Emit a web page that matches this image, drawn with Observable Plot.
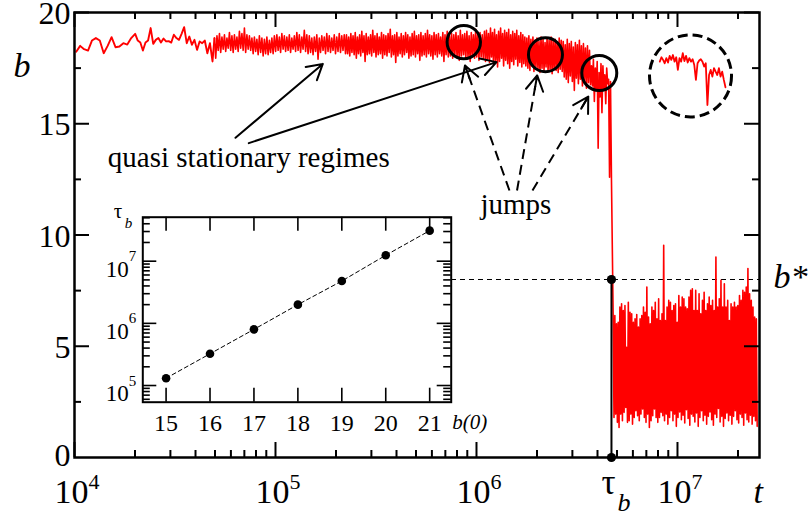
<!DOCTYPE html>
<html><head><meta charset="utf-8">
<script src="https://cdn.jsdelivr.net/npm/d3@7"></script>
<script src="https://cdn.jsdelivr.net/npm/@observablehq/plot@0.6"></script>
<style>
body{margin:0;background:#fff;}
#wrap{position:relative;width:811px;height:516px;overflow:hidden;background:#fff;font-family:"Liberation Serif";}
#wrap svg{position:absolute;font-family:"Liberation Serif";}
</style></head><body><div id="wrap"></div>
<script>
const serif = "Liberation Serif";

// ---------- main axes ----------
const xDomain = [1e4, 2.559e7];
const yDomain = [0, 20];
const xMajor = [1e4, 1e5, 1e6, 1e7];
const xExp = ["4", "5", "6", "7"];
const yMajor = [5, 10, 15, 20];
const yZero = [0];
const yMinor = [2.5, 7.5, 12.5, 17.5];
const bStar = 8;
const tauB = 4.694e6;
const bStarFrom = 7.51e5;

// ---------- main series b(t) ----------
const sparseA = [18.24,18.50,18.35,18.29,18.74,18.85,18.74,18.17,18.50,18.89,18.44,18.47,18.62,18.56,18.85];
const sparseB = [19.04,18.74,18.65,18.29,18.65,18.74,19.30,18.59,18.77,18.85,18.65,18.83,18.70,18.71,18.65,19.00,18.85,18.77,19.04,19.34,18.62,18.92,18.55,18.77,18.32,18.70,18.62,18.74,18.17,18.62,17.80];
const hi2 = [18.85,18.95,19.05,18.90,19.00,18.85,19.10,18.95,19.00,18.90,19.15,19.05,19.30,19.00,18.95,18.85,18.90,18.80,18.95,18.85,18.80,18.90,18.75,18.85,18.95,19.00,18.90,19.05,18.95,18.90,19.00,18.85,18.95,19.10,19.00,18.90,19.20,19.00,18.95,18.85,18.90,19.00,18.85,18.95,18.90,19.05,18.95,18.85,19.00,18.90,19.05,18.95,19.00];
const lo2 = [17.95,18.30,18.20,18.35,18.25,18.40,18.30,18.20,18.35,18.25,18.40,18.30,18.20,18.35,18.30,18.15,18.25,18.10,18.20,18.05,18.15,18.10,18.20,18.15,18.25,18.30,18.20,18.35,18.25,18.30,18.20,18.35,18.25,18.30,18.20,18.35,18.25,18.15,18.20,18.10,18.25,17.90,18.20,18.30,18.15,18.25,18.20,18.30,18.15,18.25,18.20,18.30,18.15];
const hi3 = [19.00,18.90,19.05,18.95,19.10,18.90,19.00,19.15,18.95,19.05,18.90,19.00,19.20,18.95,19.05,18.90,19.10,19.00,18.95,19.05,19.25,18.95,19.00,19.10,18.90,19.05,18.95,19.10,19.00,18.90,19.05,19.15,18.95,19.00,19.10,18.95,19.05,19.20,19.00,18.95,19.10,19.00,19.05,18.90,19.10,19.00,19.15,18.95,19.05,19.00,19.10,18.95,19.20,19.00,19.05,19.15,18.95,19.10,19.00,19.25,19.05,19.10,19.00,19.15];
const lo3 = [18.15,18.05,18.20,18.10,17.95,18.15,18.05,18.20,17.80,18.10,18.15,18.05,18.20,18.00,18.10,18.15,17.95,18.10,18.05,18.20,18.00,18.10,17.75,18.05,18.15,18.00,18.10,18.20,17.95,18.05,18.10,18.00,18.15,17.85,18.05,18.10,18.00,18.15,18.05,17.90,18.10,18.00,18.15,18.05,17.80,18.10,18.00,18.05,17.95,18.10,18.00,17.85,18.05,18.10,17.95,18.00,17.80,18.05,17.95,18.00,17.85,18.00,17.90,17.80];
const hi4 = [19.20,19.05,19.30,19.10,19.25,19.00,19.15,19.30,19.05,19.20,19.10,19.25,19.00,19.15,19.05,19.20,18.95,19.10,19.00,18.90,18.85,18.95,18.80,18.90,18.75,18.85,18.70,18.90,18.80,18.65,18.85,18.75,18.90,18.70,18.80,18.65,18.85,18.75,18.70,18.55,18.80,18.60,18.70,18.45,18.65,18.55,18.75,18.50,18.60,18.40,18.50,18.30];
const lo4 = [17.90,17.75,18.00,17.65,17.85,17.55,17.80,17.95,17.60,17.85,17.70,17.50,17.80,17.65,17.90,17.60,17.75,17.55,17.70,17.60,17.50,17.40,17.60,17.35,17.55,17.45,17.30,17.50,17.40,17.55,17.35,17.45,17.25,17.50,17.40,17.30,17.45,17.35,17.10,17.00,16.85,17.15,16.90,16.50,17.05,16.80,17.00,16.70,16.95,16.60,16.85,16.75];
const hi5 = [17.60,17.90,17.50,17.80,17.30,17.70,17.60,17.20,17.50,17.00,16.90];
const lo5 = [16.70,16.00,16.50,13.90,16.20,15.50,16.60,15.90,16.80,12.60,12.50];
const hi6 = [6.38,6.38,6.01,6.08,6.76,6.91,6.61,6.83,4.95,6.98,6.53,6.46,6.08,6.23,6.43,5.86,6.23,6.38,6.76,6.53,7.66,6.31,6.01,6.76,6.61,6.98,6.23,7.13,6.16,6.46,9.54,6.16,6.76,7.06,6.98,6.61,6.83,6.91,6.08,7.28,6.76,7.21,7.13,6.76,6.68,7.21,7.51,7.58,6.61,7.51,6.61,7.36,6.46,7.06,7.43,6.61,6.91,7.21,6.83,7.06,6.61,9.01,6.76,7.13,7.96,6.76,7.81,6.76,7.06,6.16,6.91,6.76,6.98,6.76,6.83,7.28,7.06,7.51,7.43,7.66,8.49,7.36,7.06,6.76,6.31,6.23];
const lo6 = [1.80,1.95,1.58,1.35,1.95,1.65,2.03,2.25,1.58,1.65,1.95,1.50,1.80,2.10,1.88,1.65,1.95,2.18,1.80,1.58,1.95,1.35,1.65,1.88,2.18,1.80,1.58,1.80,2.03,1.88,1.65,1.95,1.50,1.80,2.10,1.65,1.95,1.40,1.80,2.05,1.70,1.90,1.55,2.15,1.75,1.45,1.95,1.85,1.60,2.00,1.40,1.80,2.10,1.65,1.90,1.50,1.85,2.05,1.70,1.45,1.95,1.80,2.20,1.60,1.85,1.40,1.75,2.00,1.65,1.90,1.50,1.85,2.10,1.70,1.55,1.95,1.80,1.45,2.00,1.70,1.60,1.90,1.50,1.85,1.65,1.40];
// time span covered by each stretch of samples
const segStart = [1.02e4, 2.004e4, 4.97e4, 2.255e5, 1.121e6, 3.734e6, 4.786e6];
const segEnd   = [1.915e4, 4.86e4, 2.23e5, 1.109e6, 3.692e6, 4.694e6, 2.492e7];

// zoomed copy inside the dashed circle
const zoomVals = [17.79,17.99,17.87,17.72,17.95,17.75,18.05,17.87,18.09,17.79,17.99,17.42,17.95,17.79,18.17,17.82,18.05,17.75,17.95,17.79,17.90,17.64,16.97,17.72,17.84,17.90,17.79,17.57,17.72,15.84,17.19,17.42,17.12,17.50,17.34,17.19,17.50,17.12,17.34,16.97,16.64];
const zoomSpan = [8.166e6, 1.733e7];

// annotations
const circles = [{t: 8.646e5, b: 18.67, r: 16.7}, {t: 2.204e6, b: 18.10, r: 17}, {t: 4.083e6, b: 17.28, r: 17.5}];
const dashedCircle = [{t: 1.161e7, b: 17.15, r: 41}];
const solidArrows = [{t1: 63240, b1: 14.37, t2: 171900, b2: 17.69}, {t1: 73650, b1: 14.13, t2: 1.258e6, b2: 17.77}];
const dashedArrows = [{t1: 1.459e6, b1: 12.0, t2: 8.766e5, b2: 17.62}, {t1: 1.591e6, b1: 12.0, t2: 2.004e6, b2: 17.17}, {t1: 1.899e6, b1: 12.0, t2: 3.599e6, b2: 16.22}];
const notes = [{t: 14650, b: 13.05, label: "quasi stationary regimes"}, {t: 1.047e6, b: 10.95, label: "jumps"}];

// ---------- inset ----------
const insetB0 = [15, 16, 17, 18, 19, 20, 21];
const insetTau = [1.31e5, 3.24e5, 8.0e5, 2.0e6, 4.8e6, 1.245e7, 3.1e7];
const insetXDomain = [14.47, 21.49];
const insetYDomain = [5.39e4, 5.1e7];
const insetYMajor = [1e5, 1e6, 1e7];
const insetYExp = ["5", "6", "7"];

// ---------- build tables ----------
const zip = (h, l) => h.flatMap((v, i) => i < l.length ? [v, l[i]] : [v]);
const segValues = [sparseA, sparseB, zip(hi2, lo2), zip(hi3, lo3), zip(hi4, lo4), zip(hi5, lo5), zip(hi6, lo6)];
const spread = (t0, t1, vals) => vals.map((b, i) => ({t: t0 * Math.pow(t1 / t0, vals.length > 1 ? i / (vals.length - 1) : 0), b}));
const segRows = segValues.map((v, s) => spread(segStart[s], segEnd[s], v));
const sparseSeries = [...segRows[0], ...segRows[1], segRows[2][0]];
const denseSeries = segRows.slice(2).flat();
const zoomSeries = spread(zoomSpan[0], zoomSpan[1], zoomVals);
const isMajor = (t) => Math.abs(Math.log10(t) - Math.round(Math.log10(t))) < 1e-9;
const xMinor = d3.scaleLog().domain(xDomain).ticks().filter(t => !isMajor(t));
const insetYMinor = d3.scaleLog().domain(insetYDomain).ticks().filter(t => !isMajor(t));
const insetData = insetB0.map((b0, i) => ({b0, tau: insetTau[i]}));

// ---------- main chart ----------
const W = 811, H = 516, ML = 74, MR = 52, MT = 12, MB = 59;
const FW = W - ML - MR, FH = H - MT - MB;
const sx = d3.scaleLog(xDomain, [ML, W - MR]);
const sy = d3.scaleLinear(yDomain, [H - MB, MT]);
const headMarks = dashedArrows.map(a => {
  const len = Math.hypot(sx(a.t2) - sx(a.t1), sy(a.b2) - sy(a.b1));
  return Plot.arrow([a], {x1: "t1", y1: "b1", x2: "t2", y2: "b2", insetStart: len - 14, headLength: 13, stroke: "black", strokeWidth: 2});
});
const T = {fontFamily: serif, fill: "black", lineAnchor: "bottom"};

const main = Plot.plot({
  width: W, height: H,
  marginLeft: ML, marginRight: MR, marginTop: MT, marginBottom: MB,
  x: {type: "log", domain: xDomain, axis: null},
  y: {domain: yDomain, axis: null},
  r: {type: "identity"},
  style: {fontFamily: serif, background: "transparent", overflow: "visible", color: "black"},
  marks: [
    Plot.ruleY([bStar], {x1: bStarFrom, x2: xDomain[1], stroke: "black", strokeWidth: 1.2, strokeDasharray: "5,4"}),
    Plot.line(sparseSeries, {x: "t", y: "b", stroke: "#ff0000", strokeWidth: 1.9}),
    Plot.line(denseSeries, {x: "t", y: "b", stroke: "#ff0000", strokeWidth: 1.6}),
    Plot.line(zoomSeries, {x: "t", y: "b", stroke: "#ff0000", strokeWidth: 1.8}),
    Plot.ruleX([tauB], {y1: 0, y2: bStar, stroke: "black", strokeWidth: 2}),
    Plot.dot([{t: tauB, b: bStar}, {t: tauB, b: 0}], {x: "t", y: "b", r: 4.6, fill: "black"}),
    Plot.dot(circles, {x: "t", y: "b", r: "r", stroke: "black", strokeWidth: 3, fill: "none"}),
    Plot.dot(dashedCircle, {x: "t", y: "b", r: "r", stroke: "black", strokeWidth: 3, fill: "none", strokeDasharray: "10,5"}),
    Plot.arrow(solidArrows, {x1: "t1", y1: "b1", x2: "t2", y2: "b2", stroke: "black", strokeWidth: 2, headLength: 13}),
    Plot.link(dashedArrows, {x1: "t1", y1: "b1", x2: "t2", y2: "b2", stroke: "black", strokeWidth: 2, strokeDasharray: "10,6"}),
    ...headMarks,
    Plot.text(notes, {...T, x: "t", y: "b", text: "label", textAnchor: "start", fontSize: 29}),
    // ticks (inward, all four sides)
    Plot.tickX(xMajor, {x: d => d, insetTop: FH - 15, strokeWidth: 2}),
    Plot.tickX(xMajor, {x: d => d, insetBottom: FH - 15, strokeWidth: 2}),
    Plot.tickX(xMinor, {x: d => d, insetTop: FH - 7, strokeWidth: 2}),
    Plot.tickX(xMinor, {x: d => d, insetBottom: FH - 7, strokeWidth: 2}),
    Plot.tickY(yMajor, {y: d => d, insetRight: FW - 15, strokeWidth: 2}),
    Plot.tickY(yMajor, {y: d => d, insetLeft: FW - 15, strokeWidth: 2}),
    Plot.tickY(yMinor, {y: d => d, insetRight: FW - 7, strokeWidth: 2}),
    Plot.tickY(yMinor, {y: d => d, insetLeft: FW - 7, strokeWidth: 2}),
    Plot.frame({stroke: "black", strokeWidth: 2.5}),
    // tick labels
    Plot.text(yMajor, {...T, y: d => d, frameAnchor: "left", text: d => String(d), dx: -4, dy: 11.5, textAnchor: "end", fontSize: 32}),
    Plot.text(yZero, {...T, y: d => d, frameAnchor: "left", text: d => String(d), dx: -4, dy: 8.5, textAnchor: "end", fontSize: 32}),
    Plot.text(xMajor, {...T, x: d => d, frameAnchor: "bottom", text: () => "10", dx: -3, dy: 45, fontSize: 34}),
    Plot.text(xMajor, {...T, x: d => d, frameAnchor: "bottom", text: (d, i) => xExp[i], dx: 14, dy: 31, textAnchor: "start", fontSize: 22}),
    Plot.text([tauB], {...T, x: d => d, frameAnchor: "bottom", text: () => "τ", dx: -3, dy: 36, fontSize: 35}),
    Plot.text([tauB], {...T, x: d => d, frameAnchor: "bottom", text: () => "b", dx: 6, dy: 53, textAnchor: "start", fontSize: 26, fontStyle: "italic"}),
    // axis labels
    Plot.text(["b"], {...T, x: () => xDomain[0], y: () => 17.12, text: d => d, dx: -61, textAnchor: "start", fontSize: 34, fontStyle: "italic"}),
    Plot.text(["t"], {...T, x: () => xDomain[1], frameAnchor: "bottom", text: d => d, dx: -6, dy: 45, textAnchor: "start", fontSize: 34, fontStyle: "italic"}),
    Plot.text(["b*"], {...T, x: () => xDomain[1], y: () => bStar, text: d => d, dx: 14, dy: 8, textAnchor: "start", fontSize: 34, fontStyle: "italic"})
  ]
});
main.style.left = "0px"; main.style.top = "0px";

// ---------- inset chart ----------
const IW = 410, IH = 250, IML = 46.3, IMR = 55.3, IMT = 26.7, IMB = 38.3;
const IFW = IW - IML - IMR, IFH = IH - IMT - IMB;
const inset = Plot.plot({
  width: IW, height: IH,
  marginLeft: IML, marginRight: IMR, marginTop: IMT, marginBottom: IMB,
  x: {domain: insetXDomain, axis: null},
  y: {type: "log", domain: insetYDomain, axis: null},
  style: {fontFamily: serif, background: "transparent", overflow: "visible", color: "black"},
  marks: [
    Plot.frame({fill: "white"}),
    Plot.line(insetData, {x: "b0", y: "tau", stroke: "black", strokeWidth: 1, strokeDasharray: "4,3"}),
    Plot.dot(insetData, {x: "b0", y: "tau", r: 4.3, fill: "black"}),
    Plot.tickX(insetB0, {x: d => d, insetTop: IFH - 14, strokeWidth: 1.6}),
    Plot.tickX(insetB0, {x: d => d, insetBottom: IFH - 14, strokeWidth: 1.6}),
    Plot.tickY(insetYMajor, {y: d => d, insetRight: IFW - 14, strokeWidth: 1.6}),
    Plot.tickY(insetYMajor, {y: d => d, insetLeft: IFW - 14, strokeWidth: 1.6}),
    Plot.tickY(insetYMinor, {y: d => d, insetRight: IFW - 7.5, strokeWidth: 1.6}),
    Plot.tickY(insetYMinor, {y: d => d, insetLeft: IFW - 7.5, strokeWidth: 1.6}),
    Plot.frame({stroke: "black", strokeWidth: 2}),
    Plot.text(insetB0, {...T, x: d => d, frameAnchor: "bottom", text: d => String(d), dy: 28.3, fontSize: 24}),
    Plot.text(insetYMajor, {...T, y: d => d, frameAnchor: "left", text: () => "10", dx: -14, dy: 15.5, textAnchor: "end", fontSize: 23}),
    Plot.text(insetYMajor, {...T, y: d => d, frameAnchor: "left", text: (d, i) => insetYExp[i], dx: -14, dy: 0, textAnchor: "start", fontSize: 15}),
    Plot.text(["b(0)"], {...T, x: () => insetXDomain[1], frameAnchor: "bottom", text: d => d, dx: 1, dy: 26.3, textAnchor: "start", fontSize: 21, fontStyle: "italic"}),
    Plot.text(["τ"], {...T, frameAnchor: "top-left", text: d => d, dx: -29, dy: 0.3, textAnchor: "start", fontSize: 21}),
    Plot.text(["b"], {...T, frameAnchor: "top-left", text: d => d, dx: -18, dy: 10.3, textAnchor: "start", fontSize: 15, fontStyle: "italic"})
  ]
});
inset.style.left = "96px"; inset.style.top = "190px";

const wrap = document.getElementById("wrap");
wrap.appendChild(main);
wrap.appendChild(inset);
</script>
</body></html>
